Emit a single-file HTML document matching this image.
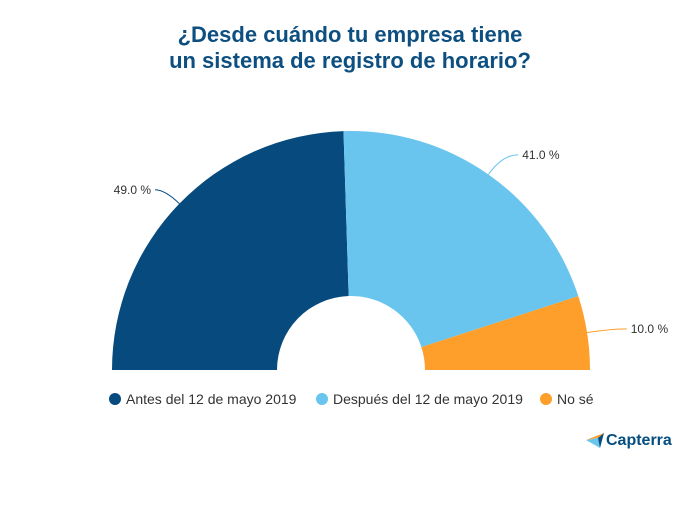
<!DOCTYPE html>
<html><head><meta charset="utf-8"><style>
body{margin:0;width:700px;height:500px;background:#fff;overflow:hidden;font-family:"Liberation Sans",sans-serif}
</style></head><body>
<svg width="700" height="500">
<text x="350" y="42" text-anchor="middle" font-size="22" font-weight="bold" fill="#0d4f80">¿Desde cuándo tu empresa tiene</text>
<text x="350" y="68" text-anchor="middle" font-size="22" font-weight="bold" fill="#0d4f80">un sistema de registro de horario?</text>
<g id="pie"></g>
<g>
<circle cx="115" cy="399" r="6" fill="#074b7e"/>
<text x="126" y="404" font-size="14" fill="#333">Antes del 12 de mayo 2019</text>
<circle cx="322" cy="399" r="6" fill="#69c5ee"/>
<text x="333" y="404" font-size="14" fill="#333">Después del 12 de mayo 2019</text>
<circle cx="546" cy="399" r="6" fill="#fd9f2a"/>
<text x="557" y="404" font-size="14" fill="#333">No sé</text>
</g>
<g>
<polygon points="586,440 604,433 598,438" fill="#ff9d28"/>
<polygon points="586,440 598,438 600,448" fill="#68c5ed"/>
<polygon points="598,438 604,433 600,448" fill="#044d80"/>
<text x="606" y="445" font-size="16" font-weight="bold" fill="#044d80">Capterra</text>
</g>
</svg>
<script>
const categories=["Antes del 12 de mayo 2019","Después del 12 de mayo 2019","No sé"];
const values=[49.0,41.0,10.0];
const labels=["49.0 %","41.0 %","10.0 %"];
const colors=["#074b7e","#69c5ee","#fd9f2a"];
const cx=351,cy=370,R=239,r=74;
const g=document.getElementById('pie');
const ns="http://www.w3.org/2000/svg";
const total=values.reduce((a,b)=>a+b,0);
let a0=Math.PI;
function pt(a,rad){return [cx+rad*Math.cos(a),cy-rad*Math.sin(a)];}
values.forEach((v,i)=>{
  const a1=a0-Math.PI*v/total;
  const p1=pt(a0,R),p2=pt(a1,R),p3=pt(a1,r),p4=pt(a0,r);
  const path=document.createElementNS(ns,'path');
  path.setAttribute('d',`M${p1} A${R},${R} 0 0 1 ${p2} L${p3} A${r},${r} 0 0 0 ${p4} Z`);
  path.setAttribute('fill',colors[i]);
  
  
  g.appendChild(path);
  const am=(a0+a1)/2;
  const right=Math.cos(am)>=0;
  const e=pt(am,R),m=pt(am,R+(right?24:20));
  const end=[m[0]+(right?16:-10),m[1]];
  const ln=document.createElementNS(ns,'path');
  ln.setAttribute('d',`M${e} Q${m} ${end}`);
  ln.setAttribute('fill','none');ln.setAttribute('stroke',colors[i]);
  
  
  g.appendChild(ln);
  const t=document.createElementNS(ns,'text');
  t.setAttribute('x',end[0]+(right?4:-4));t.setAttribute('y',end[1]+4);
  t.setAttribute('text-anchor',right?'start':'end');
  t.setAttribute('font-size','12');t.setAttribute('fill','#333');
  t.textContent=labels[i];
  
  
  g.appendChild(t);
  a0=a1;
});
</script>
</body></html>
